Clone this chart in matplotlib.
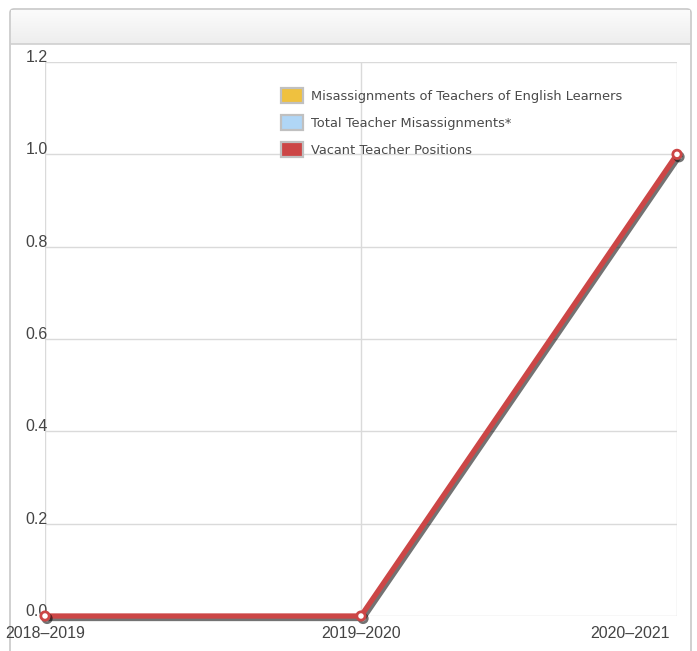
import matplotlib.pyplot as plt
import matplotlib.patheffects as pe
from matplotlib.patches import Patch, FancyBboxPatch
from matplotlib.colors import LinearSegmentedColormap
from matplotlib.transforms import ScaledTranslation
import numpy as np

years = ["2018\u20132019", "2019\u20132020", "2020\u20132021"]
vacant = [0, 0, 1]
yticks = [0.0, 0.2, 0.4, 0.6, 0.8, 1.0, 1.2]
series_names = ["Misassignments of Teachers of English Learners",
                "Total Teacher Misassignments*",
                "Vacant Teacher Positions"]
series_colors = ["#efc13f", "#b0d6f6", "#cc4646"]

W, H = 697, 651
fig = plt.figure(figsize=(W / 100, H / 100), dpi=100)

# outer panel with header band
panel = FancyBboxPatch((10 / W, -0.05), 681 / W, (H - 9) / H + 0.05,
                       boxstyle="round,pad=0,rounding_size=0.006",
                       transform=fig.transFigure, facecolor="white",
                       edgecolor="#c8c8c8", linewidth=1.2, zorder=-10)
fig.patches.append(panel)
grad = np.linspace(0, 1, 50).reshape(-1, 1)
hax = fig.add_axes([11 / W, 1 - 44 / H, 679 / W, 34 / H])
hax.imshow(grad, aspect="auto",
           cmap=LinearSegmentedColormap.from_list("g", ["#fbfbfb", "#eeeeee"]),
           extent=[0, 1, 0, 1])
hax.axis("off")
fig.add_artist(plt.Line2D([11 / W, 690 / W], [1 - 44 / H, 1 - 44 / H],
                          color="#cfcfcf", lw=1.2, transform=fig.transFigure))

ax = fig.add_axes([45 / W, 1 - 616 / H, 632 / W, 554 / H])
ax.patch.set_alpha(0)
ax.set_xlim(0, 2)
ax.set_ylim(0, 1.2)
for s in ax.spines.values():
    s.set_visible(False)
ax.set_yticks(yticks)
ax.set_yticklabels([f"{v:.1f}" for v in yticks])
ax.set_xticks(range(len(years)))
ax.set_xticklabels(years)
ax.grid(True, color="#dadada", lw=1)
ax.tick_params(length=0, colors="#444444")
ax.tick_params(axis="y", pad=6, labelsize=11.5)
ax.tick_params(axis="x", pad=7, labelsize=11.5)
for lab in ax.get_yticklabels():
    lab.set_ha("center")
    lab.set_va("baseline")
    lab.set_family("Liberation Sans")
xl = ax.get_xticklabels()
for lab in xl:
    lab.set_family("Liberation Sans")
xl[-1].set_ha("right")
xl[-1].set_transform(xl[-1].get_transform() + ScaledTranslation(-7 / 100, 0, fig.dpi_scale_trans))

ax.plot(range(len(years)), vacant, color=series_colors[2], lw=3.8,
        marker="o", markersize=6, markerfacecolor="white",
        markeredgecolor=series_colors[2], markeredgewidth=2, clip_on=False,
        zorder=5, solid_joinstyle="round",
        path_effects=[pe.SimpleLineShadow(offset=(1.5, -1.8), shadow_color="k", alpha=0.55),
                      pe.Normal()])

handles = [Patch(facecolor=c, edgecolor="#c0c0c0", linewidth=1.6) for c in series_colors]
leg = ax.legend(handles, series_names, loc="upper left",
                bbox_to_anchor=(281 / W, 1 - 88 / H), bbox_transform=fig.transFigure,
                frameon=False, fontsize=9.4, handlelength=1.67, handleheight=1.44,
                handletextpad=0.6, labelspacing=0.88, borderpad=0, borderaxespad=0)
for t in leg.get_texts():
    t.set_color("#4a4a4a")

fig.savefig("out.png", dpi=100)
